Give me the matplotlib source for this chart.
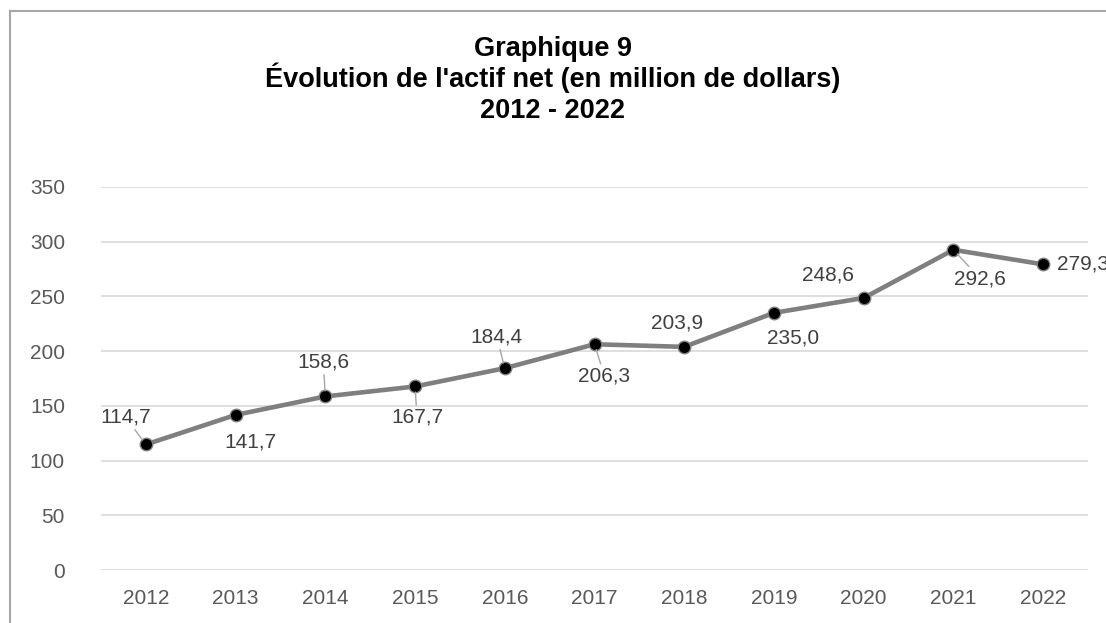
import matplotlib
matplotlib.use("Agg")
import matplotlib.pyplot as plt
from matplotlib.lines import Line2D

# data
years = ["2012", "2013", "2014", "2015", "2016", "2017", "2018", "2019", "2020", "2021", "2022"]
actif_net = [114.7, 141.7, 158.6, 167.7, 184.4, 206.3, 203.9, 235.0, 248.6, 292.6, 279.3]
labels = ["114,7", "141,7", "158,6", "167,7", "184,4", "206,3", "203,9", "235,0", "248,6", "292,6", "279,3"]
y_ticks = [0, 50, 100, 150, 200, 250, 300, 350]

# label offsets in pixels (dx, dy up), and whether Excel drew a leader line
offsets = [(-20, 27), (15, -27), (-2, 34), (2, -31), (-8, 31), (10, -32),
           (-7, 24), (19, -25), (-36, 23), (27, -29), (14, 0)]
leaders = [True, False, True, True, True, True, False, False, False, True, False]

plt.rcParams["font.family"] = ["Liberation Sans", "DejaVu Sans"]

fig = plt.figure(figsize=(11.06, 6.23), dpi=100)
ax = fig.add_axes([101 / 1106, 1 - 570 / 623, 987 / 1106, 383 / 623])

x = list(range(len(years)))
ax.plot(x, actif_net, color="#7F7F7F", lw=3.3, zorder=3,
        marker="o", markersize=9, markerfacecolor="black",
        markeredgecolor="#7F7F7F", markeredgewidth=1)

for i in x:
    dx, dy = offsets[i]
    ha = "left" if i == len(years) - 1 else "center"
    arrow = None
    if leaders[i]:
        arrow = dict(arrowstyle="-", color="#A6A6A6", lw=1, shrinkA=0, shrinkB=4)
    ax.annotate(labels[i], (i, actif_net[i]), xytext=(dx, dy),
                textcoords="offset pixels", ha=ha, va="center",
                fontsize=15, color="#404040", arrowprops=arrow,
                annotation_clip=False, zorder=4)

ax.set_xlim(-0.5, len(years) - 0.5)
ax.set_ylim(0, 350)
ax.set_xticks(x)
ax.set_xticklabels(years)
ax.set_yticks(y_ticks)
ax.tick_params(length=0, labelsize=15, labelcolor="#595959")
ax.tick_params(axis="y", pad=26)
ax.tick_params(axis="x", pad=14)
ax.grid(axis="y", color="#D9D9D9", lw=1.2)
ax.set_axisbelow(True)
for s in ax.spines.values():
    s.set_visible(False)

# title, three lines
title_lines = ["Graphique 9", "Évolution de l'actif net (en million de dollars)", "2012 - 2022"]
baselines = [56, 87, 118]
for t, b in zip(title_lines, baselines):
    fig.text(0.5, 1 - b / 623, t, ha="center", va="baseline",
             fontsize=19.5, fontweight="bold", color="black")

# chart border (only top and left visible in the crop)
bx = 10 / 1106
by = 1 - 11 / 623
fig.add_artist(Line2D([bx, bx], [0, by], color="#A6A6A6", lw=1.5))
fig.add_artist(Line2D([bx, 1], [by, by], color="#A6A6A6", lw=1.5))

fig.savefig("out.png", dpi=100)
